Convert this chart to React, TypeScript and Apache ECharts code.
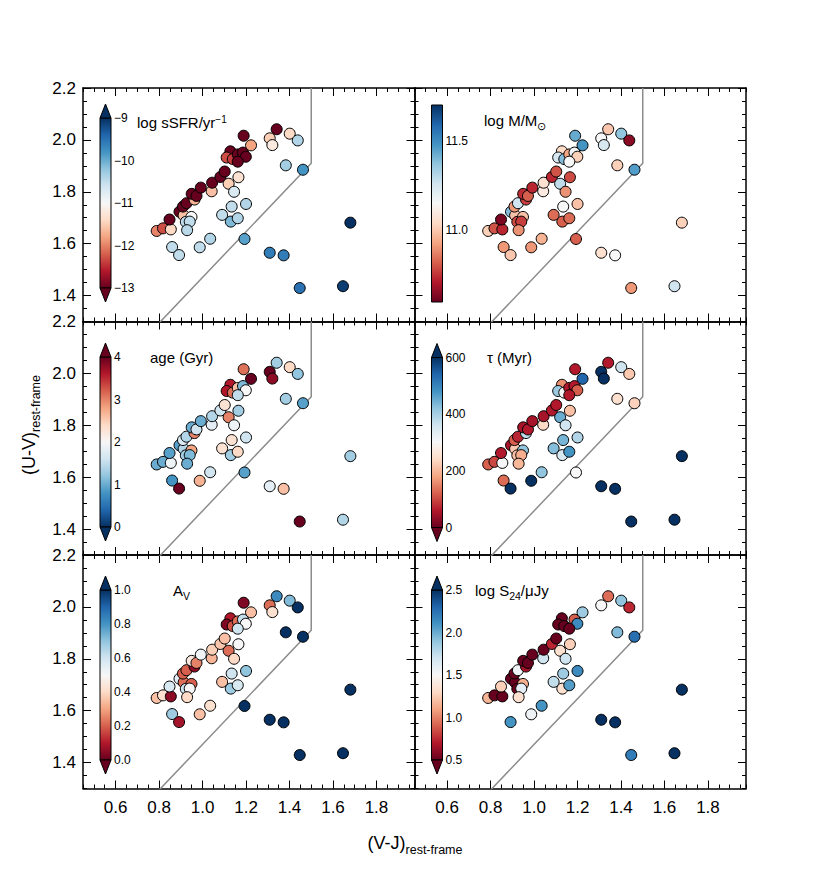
import React, { useEffect, useRef } from 'react';
import * as echarts from 'echarts';

// ---------------- data ----------------
const VJ = [0.789, 0.818, 0.854, 0.848, 0.860, 0.892, 0.894, 0.913, 0.910, 0.926, 0.923, 0.949, 0.941, 0.929, 0.963, 0.950, 0.972, 0.992, 0.987, 1.035, 1.042, 1.044, 1.082, 1.102, 1.120, 1.145, 1.165, 1.134, 1.090, 1.130, 1.162, 1.200, 1.193, 1.128, 1.111, 1.139, 1.162, 1.186, 1.199, 1.189, 1.223, 1.309, 1.321, 1.341, 1.401, 1.438, 1.383, 1.462, 1.680, 1.309, 1.373, 1.447, 1.646, 1.162];
const UV = [1.649, 1.659, 1.655, 1.693, 1.587, 1.556, 1.723, 1.709, 1.743, 1.756, 1.684, 1.703, 1.685, 1.652, 1.770, 1.792, 1.784, 1.816, 1.586, 1.619, 1.802, 1.835, 1.857, 1.878, 1.831, 1.800, 1.856, 1.743, 1.711, 1.685, 1.698, 1.753, 1.618, 1.956, 1.932, 1.926, 1.944, 1.951, 1.935, 2.016, 1.979, 2.006, 1.980, 2.041, 2.024, 1.998, 1.902, 1.885, 1.681, 1.565, 1.555, 1.429, 1.436, 1.916];
const sSFR = [-12.0, -12.3, -11.4, -13.2, -10.5, -10.5, -13.3, -11.6, -13.1, -13.0, -10.5, -11.0, -10.5, -10.45, -11.7, -13.2, -13.0, -13.1, -10.5, -10.4, -11.6, -13.0, -13.2, -13.0, -11.5, -10.7, -11.3, -10.5, -10.5, -10.1, -10.4, -10.4, -9.9, -13.1, -12.3, -12.4, -13.0, -13.0, -13.0, -13.0, -11.8, -11.5, -11.2, -13.0, -11.4, -10.4, -10.3, -9.8, -9.0, -9.6, -9.6, -9.5, -9.1, -13.0];
const mass = [11.02, 10.80, 10.73, 10.63, 10.91, 11.0, 11.39, 10.99, 10.91, 11.26, 10.79, 10.99, 10.77, 10.9, 10.77, 10.74, 10.82, 10.73, 10.91, 10.96, 11.1, 11.06, 10.73, 10.8, 11.29, 10.9, 10.79, 11.15, 10.84, 10.82, 10.84, 10.99, 10.82, 11.04, 11.24, 11.39, 10.93, 11.17, 11.02, 11.43, 11.48, 11.15, 11.24, 11.0, 11.37, 10.65, 11.02, 11.46, 11.02, 11.06, 11.15, 10.91, 11.26, 11.15];
const age = [1.0, 1.0, 1.9, 0.9, 0.8, 4.2, 0.9, 1.4, 1.7, 1.4, 1.3, 2.8, 1.1, 1.0, 3.0, 1.0, 1.6, 1.0, 2.7, 1.6, 1.8, 1.4, 1.6, 2.3, 3.0, 1.9, 1.3, 2.3, 2.3, 1.3, 2.4, 1.6, 0.9, 3.6, 3.6, 3.1, 2.6, 1.1, 2.0, 3.1, 4.2, 4.1, 3.8, 1.3, 2.4, 1.2, 1.3, 0.9, 1.3, 1.8, 2.6, 4.1, 1.4, 1.5];
const tau = [120, 100, 300, 60, 130, 620, 50, 220, 120, 70, 210, 420, 190, 200, 380, 50, 60, 50, 620, 420, 240, 50, 60, 60, 450, 360, 210, 440, 430, 350, 480, 390, 300, 160, 410, 300, 60, 60, 120, 60, 540, 620, 620, 60, 360, 220, 250, 230, 620, 620, 620, 620, 620, 60];
const Av = [0.35, 0.42, 0.05, 0.58, 0.68, 0.08, 0.55, 0.22, 0.2, 0.2, 0.6, 0.2, 0.5, 0.4, 0.05, 0.45, 0.25, 0.52, 0.35, 0.42, 0.33, 0.38, 0.36, 0.35, 0.22, 0.4, 0.5, 0.6, 0.35, 0.68, 0.58, 0.7, 1.05, 0.1, 0.03, 0.18, 0.22, 0.62, 0.5, 0.03, 0.35, 0.22, 0.42, 0.82, 0.72, 1.0, 1.0, 1.0, 1.05, 1.05, 1.05, 1.05, 1.05, 0.6];
const S24: (number | null)[] = [1.16, 0.45, 0.45, 1.26, null, 2.1, 0.45, 0.45, 0.45, 1.54, 0.45, 1.14, 1.6, 1.34, 0.66, 0.45, 0.45, 0.45, 1.54, 2.1, 1.7, 0.45, 0.74, 0.45, 1.34, 1.7, 1.26, 1.86, 1.74, 1.34, 2.06, 2.14, null, 0.45, 0.45, 0.45, null, 0.9, 2.14, null, 1.86, 1.5, null, 0.94, 1.9, 0.74, 1.94, 2.26, 2.6, 2.55, 2.55, 2.2, 2.55, 0.45];

const xTicks = [0.6, 0.8, 1.0, 1.2, 1.4, 1.6, 1.8];
const yTicks = [1.4, 1.6, 1.8, 2.0, 2.2];
const wedgeVJ = [0.8, 1.5, 1.5];
const wedgeUV = [1.294, 1.91, 2.2];
const X_MIN = 0.45, X_MAX = 1.975, Y_MIN = 1.3, Y_MAX = 2.2;

const RdBu = ['#67001f', '#b2182b', '#d6604d', '#f4a582', '#fddbc7', '#f7f7f7', '#d1e5f0', '#92c5de', '#4393c3', '#2166ac', '#053061'];
const RdBuR = RdBu.slice().reverse();

const minus = (v: number) => (v < 0 ? '\u2212' : '') + Math.abs(v);
const fix1 = (v: number) => Number(v).toFixed(1);

const panels = [
  { vals: sSFR, min: -13, max: -9, interval: 1, cmap: RdBu, extend: true, fmt: minus, title: '{t|log sSFR/yr}{sup|\u22121}' },
  { vals: mass, min: 10.6, max: 11.7, custom: [11.0, 11.5], cmap: RdBu, extend: false, fmt: fix1, title: '{t|log M/M}{sub|\u2299}' },
  { vals: age, min: 0, max: 4, interval: 1, cmap: RdBuR, extend: true, fmt: (v: number) => String(v), title: '{t|age (Gyr)}' },
  { vals: tau, min: 0, max: 600, interval: 200, cmap: RdBu, extend: true, fmt: (v: number) => String(v), title: '{t|\u03c4 (Myr)}' },
  { vals: Av, min: 0, max: 1, interval: 0.2, cmap: RdBu, extend: true, fmt: fix1, title: '{t|A}{sub|V}' },
  { vals: S24, min: 0.5, max: 2.5, interval: 0.5, cmap: RdBu, extend: true, fmt: fix1, title: '{t|log S}{sub|24}{t|/\u03bcJy}' },
];

// ---------------- layout ----------------
const COL_LEFT = [83, 414.5];
const ROW_TOP = [88, 321.5, 555];
const PW = 331.5, PH = 233.5;
const BAR_DX = 17, BAR_W = 11, TRI_H = 14;
const barLayout = [
  { top: 30, h: 170 }, { top: 17, h: 197 }, { top: 35.5, h: 170 },
  { top: 36, h: 170 }, { top: 35, h: 170 }, { top: 35, h: 170 },
];
const titlePos = [[137, 122], [484, 122], [150, 357], [487, 357], [173, 592], [475, 592]];
const FONT = 'Liberation Sans, Arial, Helvetica, sans-serif';

function buildOption() {
  const grid: any[] = [], xAxis: any[] = [], yAxis: any[] = [], series: any[] = [], visualMap: any[] = [], graphic: any[] = [];
  const tickStyle = { color: '#000', width: 1 };
  const lineStyle = { color: '#000', width: 1.5 };

  panels.forEach((p, i) => {
    const col = i % 2, row = Math.floor(i / 2);
    const left = COL_LEFT[col], top = ROW_TOP[row];
    const bl = barLayout[i];

    const gMain = grid.length; grid.push({ left, top, width: PW, height: PH });
    const gMinor = grid.length; grid.push({ left, top, width: PW, height: PH });
    const gBar = grid.length; grid.push({ left: left + BAR_DX, top: top + bl.top, width: BAR_W, height: bl.h });

    const xMain = xAxis.length;
    ['bottom', 'top'].forEach((pos, k) => xAxis.push({
      gridIndex: gMain, type: 'value', position: pos, min: X_MIN, max: X_MAX,
      axisLine: { show: true, onZero: false, lineStyle },
      axisTick: { show: true, inside: true, length: 8, customValues: xTicks, lineStyle: tickStyle },
      axisLabel: { show: k === 0 && row === 2, customValues: xTicks, formatter: fix1, fontSize: 17, fontFamily: FONT, color: '#000', margin: 10 },
      splitLine: { show: false },
    }));
    const yMain = yAxis.length;
    ['left', 'right'].forEach((pos, k) => yAxis.push({
      gridIndex: gMain, type: 'value', position: pos, min: Y_MIN, max: Y_MAX,
      axisLine: { show: true, onZero: false, lineStyle },
      axisTick: { show: true, inside: true, length: 8, customValues: yTicks, lineStyle: tickStyle },
      axisLabel: { show: k === 0 && col === 0, customValues: yTicks, formatter: fix1, fontSize: 17, fontFamily: FONT, color: '#000', margin: 7 },
      splitLine: { show: false },
    }));
    ['bottom', 'top'].forEach((pos) => xAxis.push({
      gridIndex: gMinor, type: 'value', position: pos, min: X_MIN, max: X_MAX, interval: 0.05,
      axisLine: { show: false }, axisLabel: { show: false }, splitLine: { show: false },
      axisTick: { show: true, inside: true, length: 4, lineStyle: tickStyle },
    }));
    ['left', 'right'].forEach((pos) => yAxis.push({
      gridIndex: gMinor, type: 'value', position: pos, min: Y_MIN, max: Y_MAX, interval: 0.05,
      axisLine: { show: false }, axisLabel: { show: false }, splitLine: { show: false },
      axisTick: { show: true, inside: true, length: 4, lineStyle: tickStyle },
    }));
    xAxis.push({ gridIndex: gBar, type: 'value', show: false, min: 0, max: 1 });
    const barAxis: any = {
      gridIndex: gBar, type: 'value', position: 'right', min: p.min, max: p.max,
      axisLine: { show: false }, axisTick: { show: false }, splitLine: { show: false },
      axisLabel: { show: true, formatter: p.fmt, fontSize: 12, fontFamily: FONT, color: '#000', margin: 3, showMinLabel: true, showMaxLabel: true },
    };
    if ((p as any).interval) barAxis.interval = (p as any).interval;
    if ((p as any).custom) barAxis.axisLabel.customValues = (p as any).custom;
    yAxis.push(barAxis);

    // data
    const data: number[][] = [];
    p.vals.forEach((v, j) => { if (v !== null && v !== undefined) data.push([VJ[j], UV[j], v as number]); });
    const sIdx = series.length;
    series.push({
      type: 'scatter', xAxisIndex: xMain, yAxisIndex: yMain, data, symbolSize: 11, z: 3, silent: true,
      itemStyle: { borderColor: '#000', borderWidth: 1, opacity: 1 },
    });
    series.push({
      type: 'line', xAxisIndex: xMain, yAxisIndex: yMain, data: wedgeVJ.map((x, k) => [x, wedgeUV[k]]),
      symbol: 'none', lineStyle: { color: '#8c8c8c', width: 1.5 }, z: 2, silent: true,
    });
    visualMap.push({ type: 'continuous', show: false, seriesIndex: sIdx, dimension: 2, min: p.min, max: p.max, inRange: { color: p.cmap } });

    // colorbar
    const bx = left + BAR_DX, by = top + bl.top;
    const stops = p.cmap.slice().reverse().map((c, k, arr) => ({ offset: k / (arr.length - 1), color: c }));
    graphic.push({
      type: 'rect', shape: { x: bx, y: by, width: BAR_W, height: bl.h }, silent: true, z: 10,
      style: { fill: { type: 'linear', x: 0, y: 0, x2: 0, y2: 1, colorStops: stops }, stroke: '#000', lineWidth: 1 },
    });
    if (p.extend) {
      graphic.push({
        type: 'polygon', shape: { points: [[bx, by], [bx + BAR_W, by], [bx + BAR_W / 2, by - TRI_H]] }, silent: true, z: 10,
        style: { fill: p.cmap[p.cmap.length - 1], stroke: '#000', lineWidth: 1 },
      });
      graphic.push({
        type: 'polygon', shape: { points: [[bx, by + bl.h], [bx + BAR_W, by + bl.h], [bx + BAR_W / 2, by + bl.h + TRI_H]] }, silent: true, z: 10,
        style: { fill: p.cmap[0], stroke: '#000', lineWidth: 1 },
      });
    }
    // title
    graphic.push({
      type: 'text', x: titlePos[i][0], y: titlePos[i][1], silent: true, z: 10,
      style: {
        text: p.title, align: 'left', verticalAlign: 'middle',
        rich: {
          t: { fontSize: 15, fontFamily: FONT, fill: '#000', verticalAlign: 'top' },
          sup: { fontSize: 10, fontFamily: FONT, fill: '#000', verticalAlign: 'top' },
          sub: { fontSize: 10.5, fontFamily: FONT, fill: '#000', verticalAlign: 'bottom', padding: [7, 0, 0, 0] },
        },
      },
    });
  });

  // axis titles
  const richTitle = {
    m: { fontSize: 18, fontFamily: FONT, fill: '#000', verticalAlign: 'top' },
    s: { fontSize: 12.5, fontFamily: FONT, fill: '#000', verticalAlign: 'bottom', padding: [9, 0, 0, 0] },
  };
  graphic.push({
    type: 'text', x: 415, y: 845, silent: true,
    style: { text: '{m|(V-J)}{s|rest-frame}', align: 'center', verticalAlign: 'middle', rich: richTitle },
  });
  graphic.push({
    type: 'text', x: 31, y: 425, rotation: Math.PI / 2, silent: true,
    style: { text: '{m|(U-V)}{s|rest-frame}', align: 'center', verticalAlign: 'middle', rich: richTitle },
  });

  return { animation: false, grid, xAxis, yAxis, series, visualMap, graphic };
}

export default function App() {
  const ref = useRef<HTMLDivElement>(null);
  useEffect(() => {
    const chart = echarts.init(ref.current!, null, { renderer: 'svg' });
    chart.setOption(buildOption() as any);
    return () => chart.dispose();
  }, []);
  return <div ref={ref} style={{ position: 'absolute', left: 0, top: 0, width: 830, height: 879, background: '#fff' }} />;
}
